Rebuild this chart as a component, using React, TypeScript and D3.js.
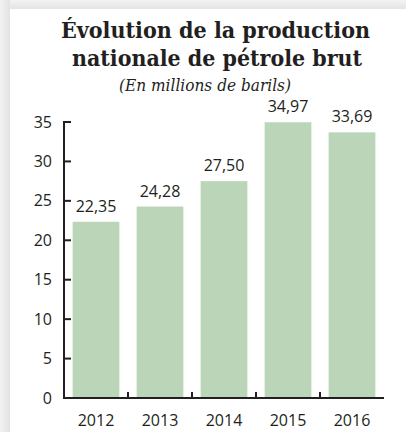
import * as d3 from 'd3';

const W = 406;
const H = 432;

const years = ['2012', '2013', '2014', '2015', '2016'];
const production = [22.35, 24.28, 27.5, 34.97, 33.69];
const yTicks = [0, 5, 10, 15, 20, 25, 30, 35];

const titleLines = ['Évolution de la production', 'nationale de pétrole brut'];
const subtitle = '(En millions de barils)';

const frLocale = d3.formatLocale({decimal: ',', thousands: ' ', grouping: [3], currency: ['', ' €']});
const fmt = frLocale.format('.2f');

const axisColor = '#231f20';
const barColor = '#bad5b8';
const labelFont = '"Open Sans", sans-serif';

export default function App() {
    const x = d3.scaleBand().domain(years).range([64, 384]).paddingInner(0.27).paddingOuter(0.135);
    const y = d3.scaleLinear().domain([0, 35]).range([398, 122]);

    // separators between the bars on the x axis
    const step = x.step();
    const seps = years.slice(0, -1).map(d => (x(d) || 0) + x.bandwidth() + (step - x.bandwidth()) / 2);

    return (
        <svg width={W} height={H} style={{position: 'absolute', left: 0, top: 0}}>
            <defs>
                <linearGradient id="leftShade" x1="0" x2="1" y1="0" y2="0">
                    <stop offset="0" stopColor="#f3f3f3" />
                    <stop offset="1" stopColor="#e2e2e2" />
                </linearGradient>
                <linearGradient id="topShade" x1="0" x2="0" y1="0" y2="1">
                    <stop offset="0" stopColor="#f3f3f3" />
                    <stop offset="1" stopColor="#e4e4e4" />
                </linearGradient>
            </defs>
            <rect x={0} y={0} width={W} height={H} fill="#f0f0f0" />
            <rect x={0} y={0} width={W} height={9} fill="url(#topShade)" />
            <rect x={0} y={0} width={10} height={H} fill="url(#leftShade)" />
            <rect x={10} y={9} width={W - 10} height={H - 9} fill="#ffffff" />

            <g fontFamily='"DejaVu Serif", serif' fontWeight="bold" fontSize={22} fill="#231f20">
                <text x={61} y={38} textLength={309} lengthAdjust="spacingAndGlyphs">{titleLines[0]}</text>
                <text x={72} y={66} textLength={290} lengthAdjust="spacingAndGlyphs">{titleLines[1]}</text>
            </g>
            <text x={119} y={91} textLength={172} lengthAdjust="spacingAndGlyphs"
                  fontFamily='"DejaVu Serif", serif' fontStyle="italic" fontSize={16.5} fill="#231f20">{subtitle}</text>

            {production.map((v, i) => (
                <rect key={years[i]} x={x(years[i])} y={y(v)} width={x.bandwidth()} height={y(0) - y(v)} fill={barColor} />
            ))}

            <g fontFamily={labelFont} fontSize={16} fill="#231f20" textAnchor="middle">
                {production.map((v, i) => (
                    <text key={years[i]} x={(x(years[i]) || 0) + x.bandwidth() / 2} y={y(v) - 10}>{fmt(v)}</text>
                ))}
            </g>

            <g stroke={axisColor} strokeWidth={2} fill="none">
                <line x1={64} x2={64} y1={y(35) - 1} y2={y(0) + 1} />
                <line x1={63} x2={384} y1={y(0)} y2={y(0)} />
                {yTicks.map(t => (
                    <line key={t} x1={64} x2={71} y1={y(t)} y2={y(t)} />
                ))}
                {seps.map((s, i) => (
                    <line key={i} x1={s} x2={s} y1={y(0)} y2={y(0) - 6} />
                ))}
            </g>

            <g fontFamily={labelFont} fontSize={16} fill="#231f20" textAnchor="end">
                {yTicks.map(t => (
                    <text key={t} x={52} y={y(t)} dy="0.35em">{t}</text>
                ))}
            </g>
            <g fontFamily={labelFont} fontSize={16} fill="#231f20" textAnchor="middle">
                {years.map(d => (
                    <text key={d} x={(x(d) || 0) + x.bandwidth() / 2} y={426}>{d}</text>
                ))}
            </g>
        </svg>
    );
}
